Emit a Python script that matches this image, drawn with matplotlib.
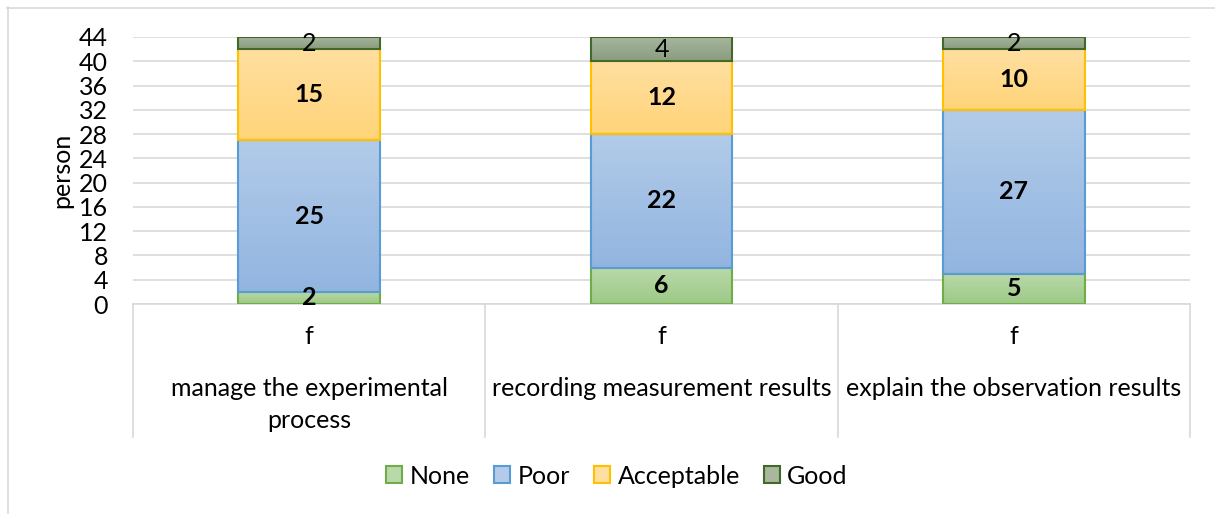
import numpy as np
import matplotlib
matplotlib.use("Agg")
import matplotlib.pyplot as plt
from matplotlib.colors import LinearSegmentedColormap
from matplotlib.patches import Rectangle
from matplotlib.transforms import blended_transform_factory

plt.rcParams['font.family'] = ['Lato', 'DejaVu Sans']

categories = ["manage the experimental\nprocess",
              "recording measurement results",
              "explain the observation results"]
sub_label = "f"
series_names = ["None", "Poor", "Acceptable", "Good"]
none_vals = [2, 6, 5]
poor_vals = [25, 22, 27]
acceptable_vals = [15, 12, 10]
good_vals = [2, 4, 2]
y_ticks = list(range(0, 45, 4))

series_vals = [none_vals, poor_vals, acceptable_vals, good_vals]
# (top colour, bottom colour, edge colour, bold label)
styles = [
    ("#b9d9aa", "#9dc986", "#70ad47", True),
    ("#b2cbe9", "#92b5e0", "#5b9bd5", True),
    ("#ffdfa0", "#ffd479", "#ffc000", True),
    ("#a8b79e", "#8a9c7f", "#43682b", False),
]

W, H, DPI = 1215, 514, 100
fig = plt.figure(figsize=(W / DPI, H / DPI), dpi=DPI)
fig.patch.set_facecolor("white")

# outer chart frame (top and left edges)
fig.add_artist(plt.Line2D([7 / W, 1.0], [1 - 7.5 / H, 1 - 7.5 / H],
                          transform=fig.transFigure, color="#d9d9d9", lw=1.2))
fig.add_artist(plt.Line2D([7.5 / W, 7.5 / W], [0, 1 - 7 / H],
                          transform=fig.transFigure, color="#d9d9d9", lw=1.2))

ax_l, ax_r, ax_t, ax_b = 133, 1190, 37, 304
ax = fig.add_axes([ax_l / W, 1 - ax_b / H, (ax_r - ax_l) / W, (ax_b - ax_t) / H])

x = np.arange(len(categories))
width = 0.403
fs = 18

bottom = np.zeros(len(categories))
for name, vals, (ctop, cbot, cedge, bold) in zip(series_names, series_vals, styles):
    vals = np.array(vals, dtype=float)
    bars = ax.bar(x, vals, width, bottom=bottom, facecolor="none",
                  edgecolor=cedge, linewidth=1.5, zorder=4, label=name)
    cmap = LinearSegmentedColormap.from_list(name, [cbot, ctop])
    grad = np.linspace(1, 0, 64).reshape(-1, 1)
    for rect, v, b in zip(bars, vals, bottom):
        x0, w = rect.get_x(), rect.get_width()
        im = ax.imshow(grad, extent=[x0, x0 + w, b, b + v], aspect="auto",
                       cmap=cmap, vmin=0, vmax=1, zorder=3, origin="upper")
        clip = Rectangle((x0, b), w, v, transform=ax.transData)
        im.set_clip_path(clip)
        ax.text(rect.get_x() + w / 2, b + v / 2, f"{int(v)}",
                ha="center", va="center", fontsize=fs,
                fontweight="bold" if bold else "normal", color="black", zorder=5)
    bottom += vals

ax.set_xlim(-0.5, len(categories) - 0.5)
ax.set_ylim(0, 44)
ax.set_yticks(y_ticks)
ax.tick_params(axis="y", length=0, labelsize=fs, pad=18)
ax.set_xticks([])
ax.yaxis.grid(True, color="#d9d9d9", lw=1.2, zorder=0)
ax.set_axisbelow(True)
for s in ["top", "right", "left"]:
    ax.spines[s].set_visible(False)
ax.spines["bottom"].set_color("#d9d9d9")
ax.spines["bottom"].set_linewidth(1.2)
ax.set_ylabel("person", fontsize=fs, labelpad=4)

# two-level category axis
span = ax_b - ax_t
trans = blended_transform_factory(ax.transData, ax.transAxes)
sep_bottom = -(437 - ax_b) / span
for xs in np.arange(-0.5, len(categories), 1.0):
    ax.plot([xs, xs], [0, sep_bottom], transform=trans, color="#d9d9d9",
            lw=1.2, clip_on=False)
f_y = -(336 - ax_b) / span
for xi, cat in zip(x, categories):
    ax.text(xi, f_y, sub_label, transform=trans, ha="center", va="center",
            fontsize=fs)
    for i, line in enumerate(cat.split("\n")):
        ly = -(389 + 32 * i - ax_b) / span
        ax.text(xi, ly, line, transform=trans, ha="center", va="center",
                fontsize=fs)

# legend
handles = [Rectangle((0, 0), 1, 1, facecolor=ctop, edgecolor=cedge, lw=1.5)
           for (ctop, cbot, cedge, _) in styles]
fig.legend(handles, series_names, loc="center", bbox_to_anchor=(617 / W, 1 - 476 / H),
           ncol=4, frameon=False, fontsize=fs, handlelength=0.65, handleheight=0.65,
           handletextpad=0.3, columnspacing=0.95)

fig.savefig("out.png", dpi=DPI, facecolor="white")
